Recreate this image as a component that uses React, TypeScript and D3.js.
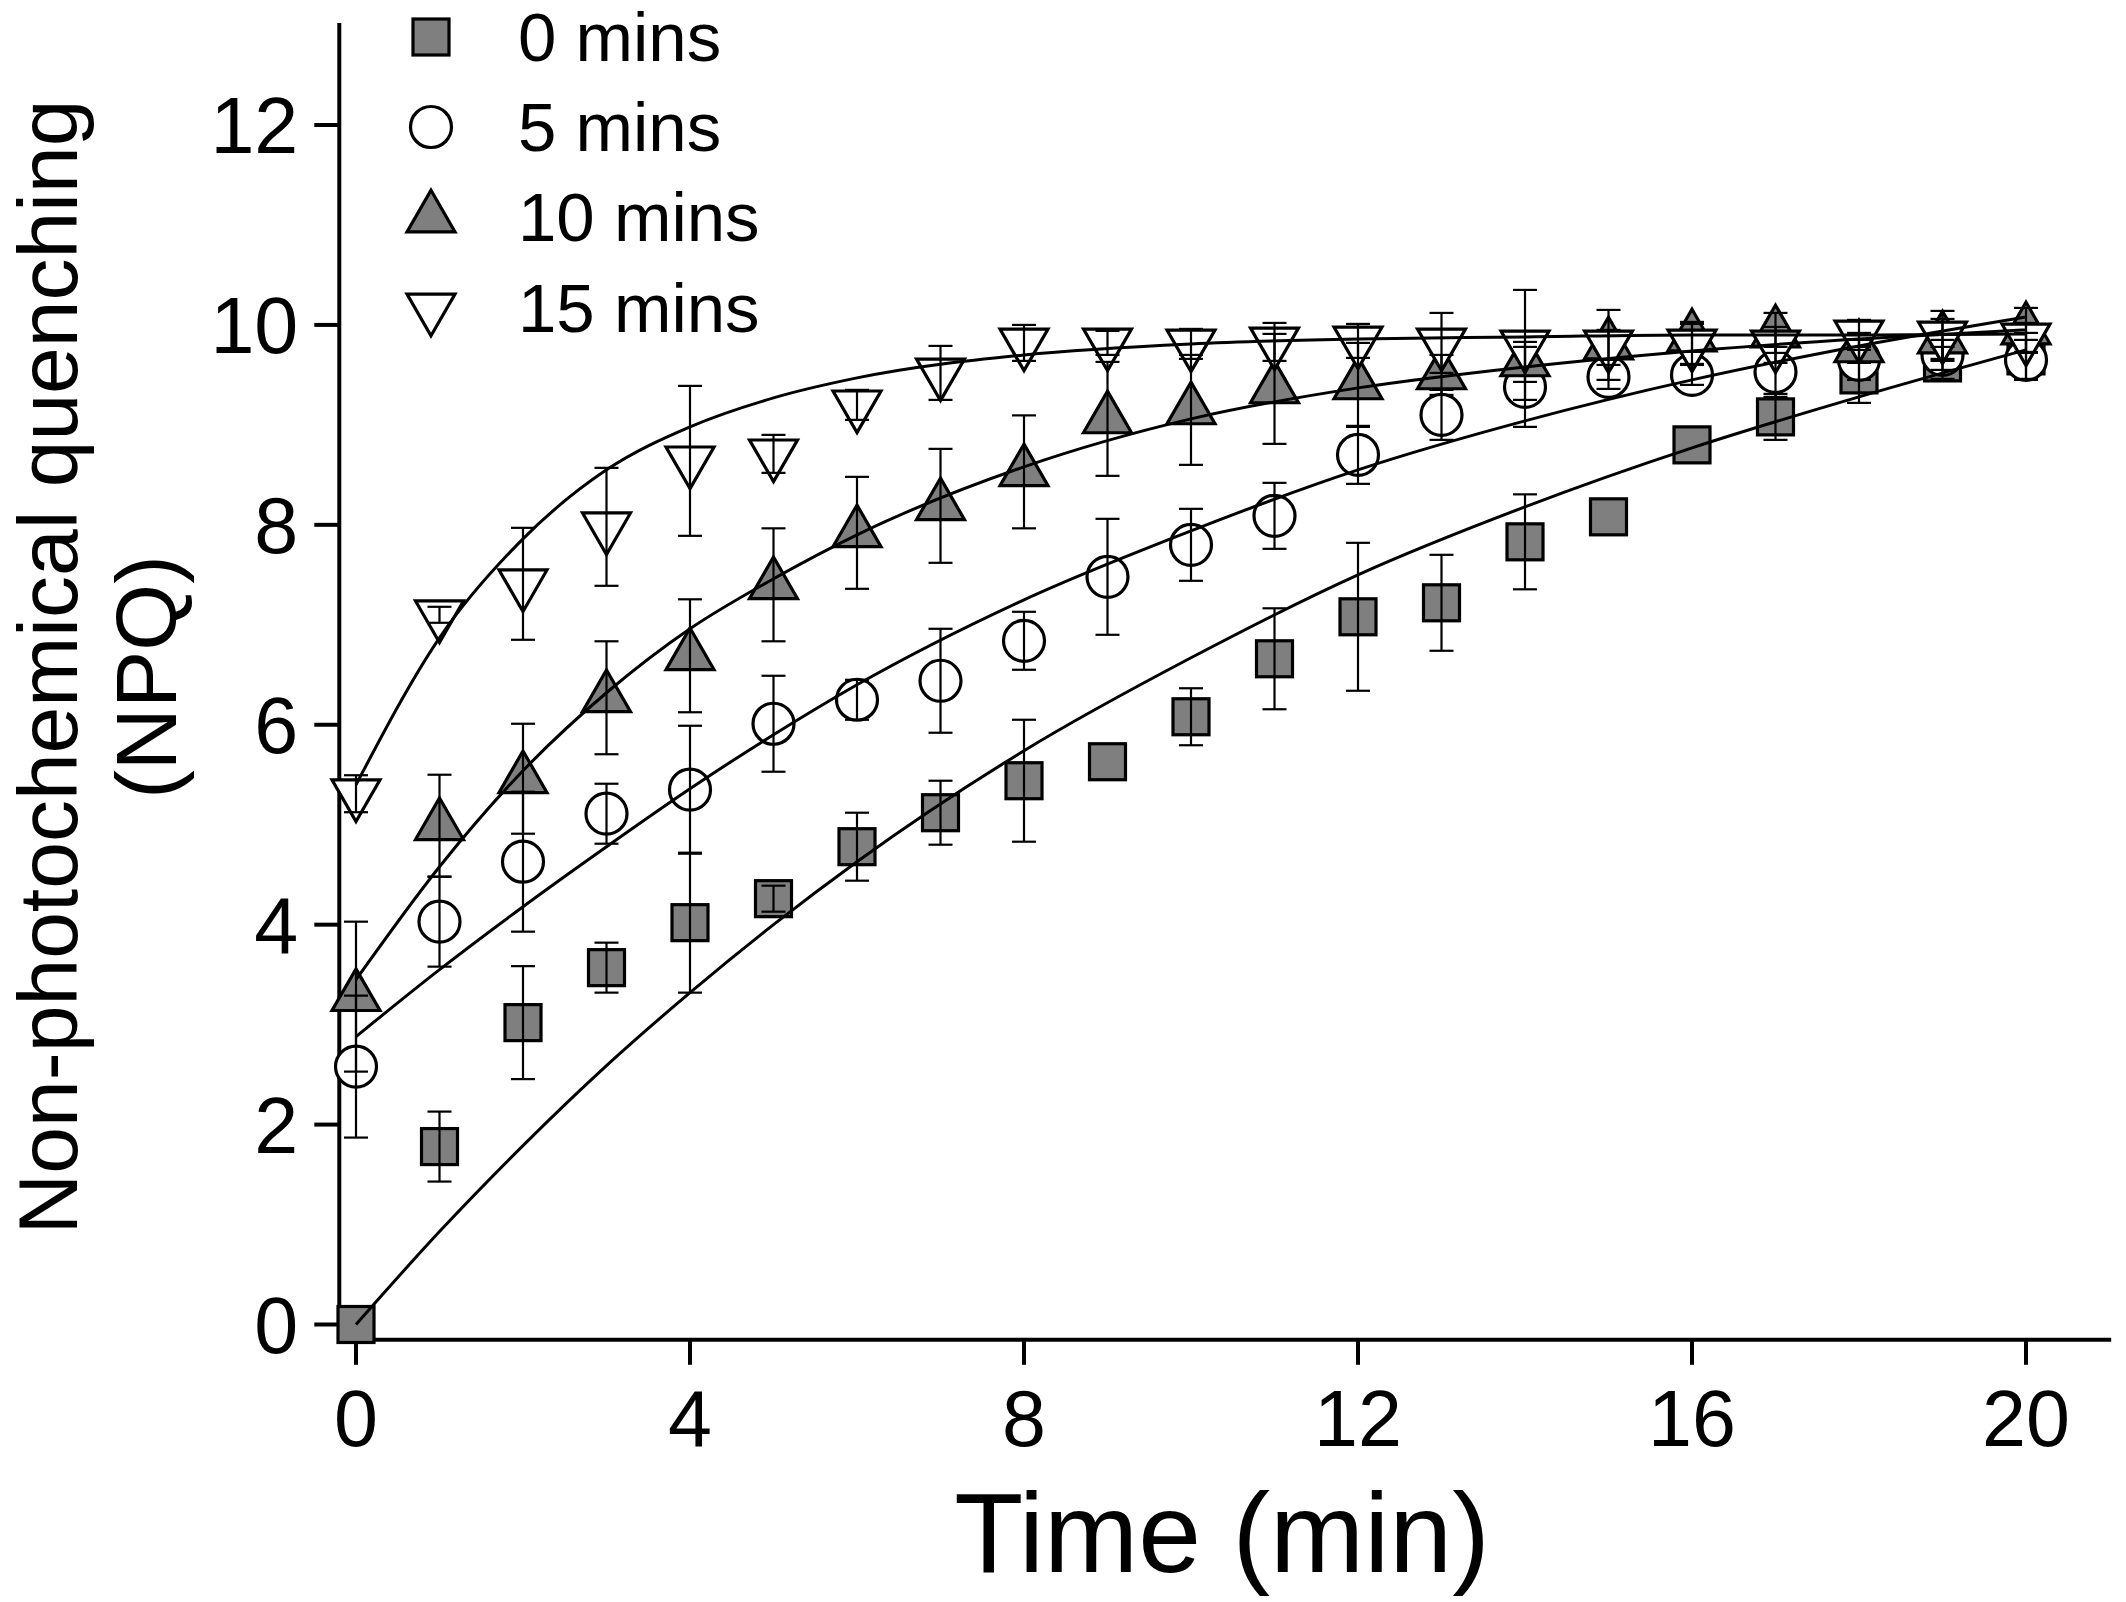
import * as d3 from "d3"

// Time points (min)
const times = [0, 1, 2, 3, 4, 5, 6, 7, 8, 9, 10, 11, 12, 13, 14, 15, 16, 17, 18, 19, 20]

// NPQ means and errors per dark-adaptation group
const npq0 = [0, 1.78, 3.02, 3.57, 4.02, 4.26, 4.78, 5.12, 5.44, 5.63, 6.08, 6.66, 7.08, 7.22, 7.83, 8.08, 8.8, 9.08, 9.5, 9.62, 9.69]
const err0 = [0, 0.35, 0.565, 0.25, 0.7, 0.13, 0.34, 0.32, 0.61, 0, 0.285, 0.505, 0.74, 0.48, 0.475, 0, 0, 0.23, 0.28, 0.16, 0.23]

const npq5 = [2.58, 4.03, 4.63, 5.11, 5.35, 6.01, 6.25, 6.44, 6.84, 7.48, 7.8, 8.09, 8.7, 9.1, 9.38, 9.48, 9.5, 9.53, 9.65, 9.7, 9.65]
const err5 = [0.71, 0.45, 0.7, 0.3, 0.64, 0.48, 0.2, 0.52, 0.29, 0.58, 0.36, 0.33, 0.29, 0.25, 0.4, 0.12, 0.1, 0.25, 0.2, 0.15, 0.2]

const npq10 = [3.28, 4.99, 5.46, 6.27, 6.69, 7.4, 7.92, 8.19, 8.53, 9.06, 9.15, 9.36, 9.4, 9.5, 9.63, 9.8, 9.88, 9.92, 9.77, 9.86, 9.95]
const err10 = [0.75, 0.51, 0.55, 0.565, 0.565, 0.565, 0.56, 0.57, 0.565, 0.57, 0.55, 0.55, 0.42, 0.2, 0.2, 0.15, 0.15, 0.2, 0.15, 0.2, 0.22]

const npq15 = [5.31, 7.1, 7.41, 7.98, 8.64, 8.71, 9.2, 9.52, 9.82, 9.82, 9.81, 9.83, 9.84, 9.82, 9.8, 9.8, 9.81, 9.8, 9.9, 9.89, 9.87]
const err15 = [0.185, 0.08, 0.56, 0.59, 0.75, 0.19, 0.15, 0.27, 0.18, 0.12, 0.15, 0.19, 0.17, 0.3, 0.55, 0.35, 0.2, 0.18, 0.15, 0.25, 0.15]

// Fitted curves at these times
const fitTimes = [0, 1, 2, 3, 4, 5, 6, 8, 10, 12, 14, 16, 18, 20]
const fit0 = [0, 0.93, 1.79, 2.59, 3.32, 4.0, 4.63, 5.74, 6.67, 7.5, 8.18, 8.77, 9.28, 9.75]
const fit5 = [2.88, 3.55, 4.18, 4.78, 5.36, 5.9, 6.4, 7.25, 7.94, 8.55, 9.04, 9.45, 9.79, 10.08]
const fit10 = [3.45, 4.58, 5.54, 6.32, 6.96, 7.46, 7.9, 8.58, 9.06, 9.37, 9.58, 9.74, 9.86, 9.95]
const fit15 = [5.4, 6.87, 7.86, 8.55, 8.98, 9.27, 9.47, 9.7, 9.81, 9.86, 9.88, 9.9, 9.9, 9.91]

const seriesLabels = ["0 mins", "5 mins", "10 mins", "15 mins"]
const xTicks = [0, 4, 8, 12, 16, 20]
const yTicks = [0, 2, 4, 6, 8, 10, 12]

const W = 2126
const H = 1602
const FONT = "'Liberation Sans', Arial, Helvetica, sans-serif"
const GREY = "#7f7f7f"

type Shape = "square" | "circle" | "up" | "down"

const series = [
  { label: seriesLabels[0], values: npq0, errors: err0, fit: fit0, shape: "square" as Shape, fill: GREY },
  { label: seriesLabels[1], values: npq5, errors: err5, fit: fit5, shape: "circle" as Shape, fill: "#fff" },
  { label: seriesLabels[2], values: npq10, errors: err10, fit: fit10, shape: "up" as Shape, fill: GREY },
  { label: seriesLabels[3], values: npq15, errors: err15, fit: fit15, shape: "down" as Shape, fill: "#fff" },
]

const x = d3.scaleLinear().domain([0, 20]).range([356, 2026])
const y = d3.scaleLinear().domain([0, 12]).range([1324.5, 125])

const axisX = x(-0.2)
const axisY = y(-0.153)

const TRI_W = 48
const TRI_H = 41.6

// Marker drawn around its centre (centroid for the triangles)
const Marker = ({ shape, cx, cy, fill }: { shape: Shape; cx: number; cy: number; fill: string }) => {
  const common = { fill, stroke: "#000", strokeWidth: 3.2 }
  if (shape === "square") {
    return <rect x={cx - 18} y={cy - 18} width={36} height={36} {...common} />
  }
  if (shape === "circle") {
    return <circle cx={cx} cy={cy} r={20.5} {...common} />
  }
  const path = d3.path()
  if (shape === "up") {
    path.moveTo(cx, cy - (2 * TRI_H) / 3)
    path.lineTo(cx + TRI_W / 2, cy + TRI_H / 3)
    path.lineTo(cx - TRI_W / 2, cy + TRI_H / 3)
  } else {
    path.moveTo(cx, cy + (2 * TRI_H) / 3)
    path.lineTo(cx + TRI_W / 2, cy - TRI_H / 3)
    path.lineTo(cx - TRI_W / 2, cy - TRI_H / 3)
  }
  path.closePath()
  return <path d={path.toString()} {...common} strokeLinejoin="miter" />
}

const fitLine = d3
  .line<number>()
  .x((_d, i) => x(fitTimes[i]))
  .y(d => y(d))
  .curve(d3.curveMonotoneX)

export default function App() {
  const legendRows = [37, 127, 218, 308]
  const legendBase = [61, 151, 241, 332]

  return (
    <div style={{ position: "absolute", left: 0, top: 0 }}>
      <svg width={W} height={H} viewBox={`0 0 ${W} ${H}`} style={{ display: "block", background: "#fff" }} fontFamily={FONT}>
        <rect width={W} height={H} fill="#fff" />

        {/* axes */}
        <line x1={axisX} x2={axisX} y1={y(13.02)} y2={axisY + 2} stroke="#000" strokeWidth={4} />
        <line x1={axisX - 2} x2={x(21.02)} y1={axisY} y2={axisY} stroke="#000" strokeWidth={4} />
        {yTicks.map(t => (
          <g key={`yt${t}`}>
            <line x1={axisX - 25} x2={axisX} y1={y(t)} y2={y(t)} stroke="#000" strokeWidth={4} />
            <text x={axisX - 41} y={y(t) + 28} textAnchor="end" fontSize={79}>
              {t}
            </text>
          </g>
        ))}
        {xTicks.map(t => (
          <g key={`xt${t}`}>
            <line x1={x(t)} x2={x(t)} y1={axisY} y2={axisY + 25} stroke="#000" strokeWidth={4} />
            <text x={x(t)} y={1446} textAnchor="middle" fontSize={79}>
              {t}
            </text>
          </g>
        ))}

        {/* axis titles */}
        <text x={1222} y={1572} textAnchor="middle" fontSize={113}>
          Time (min)
        </text>
        <text transform="translate(77,667) rotate(-90)" textAnchor="middle" fontSize={84}>
          Non-photochemical quenching
        </text>
        <text transform="translate(176,677) rotate(-90)" textAnchor="middle" fontSize={86}>
          (NPQ)
        </text>

        {/* markers */}
        {series.map(s => (
          <g key={`m${s.label}`}>
            {s.values.map((v, i) => (
              <Marker key={i} shape={s.shape} cx={x(times[i])} cy={y(v)} fill={s.fill} />
            ))}
          </g>
        ))}

        {/* error bars */}
        {series.map(s => (
          <g key={`e${s.label}`} stroke="#000" strokeWidth={2.2}>
            {s.values.map((v, i) => {
              const e = s.errors[i]
              if (!e) return null
              const cx = x(times[i])
              return (
                <g key={i}>
                  <line x1={cx} x2={cx} y1={y(v + e)} y2={y(v - e)} />
                  <line x1={cx - 12} x2={cx + 12} y1={y(v + e)} y2={y(v + e)} />
                  <line x1={cx - 12} x2={cx + 12} y1={y(v - e)} y2={y(v - e)} />
                </g>
              )
            })}
          </g>
        ))}

        {/* fitted curves */}
        {series.map(s => (
          <path key={`f${s.label}`} d={fitLine(s.fit) ?? ""} fill="none" stroke="#000" strokeWidth={3} />
        ))}

        {/* legend */}
        {series.map((s, i) => (
          <g key={`l${s.label}`}>
            <Marker shape={s.shape} cx={431} cy={legendRows[i]} fill={s.fill} />
            <text x={518} y={legendBase[i]} fontSize={69}>
              {s.label}
            </text>
          </g>
        ))}
      </svg>
    </div>
  )
}
